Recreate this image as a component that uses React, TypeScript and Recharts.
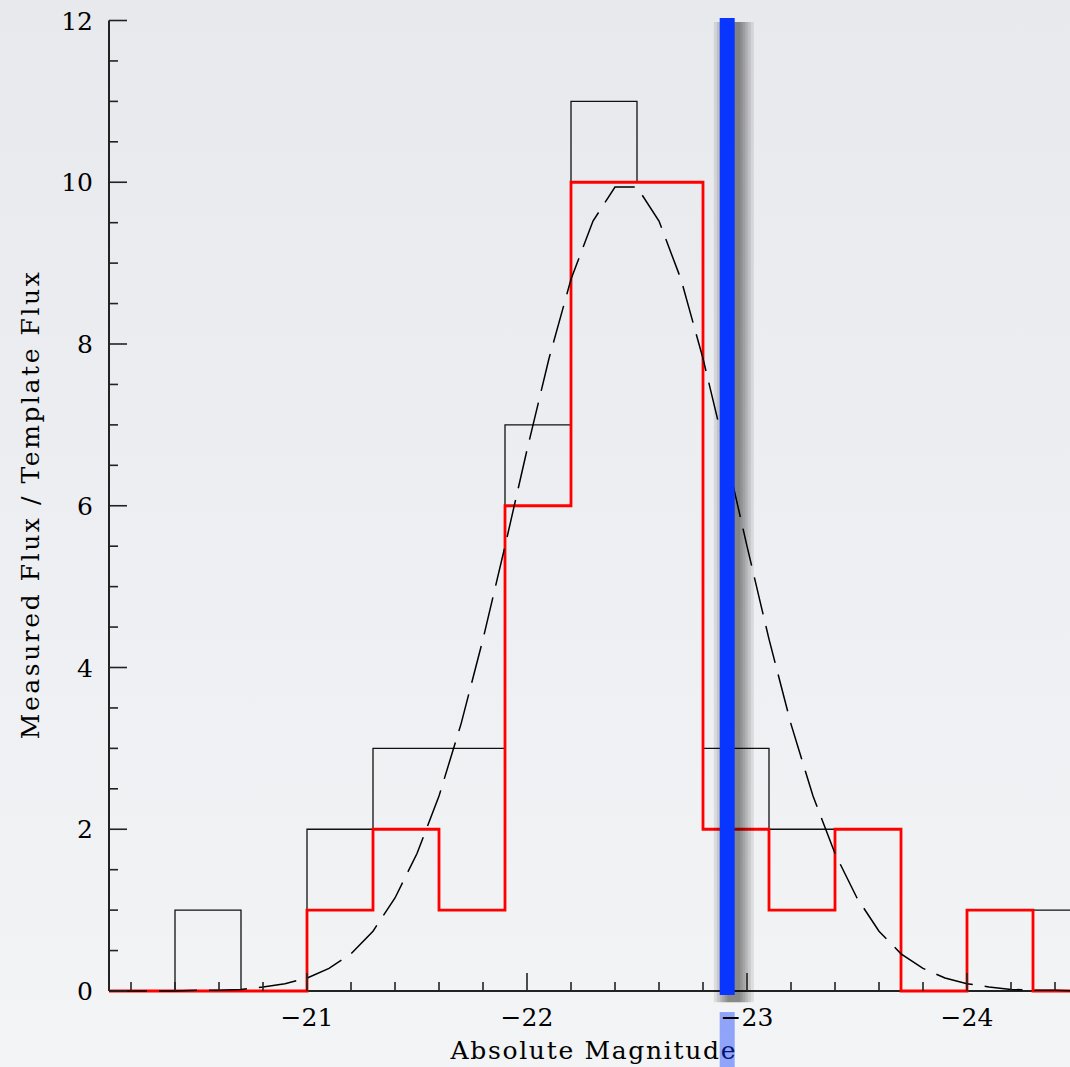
import { ComposedChart, Line, XAxis, YAxis, ReferenceLine, Label } from 'recharts';

// 0.3 mag bins; the last one is cut by the right frame at -24.5
const binEdges = [-20.1, -20.4, -20.7, -21.0, -21.3, -21.6, -21.9, -22.2, -22.5, -22.8, -23.1, -23.4, -23.7, -24.0, -24.3, -24.5];
const allCounts = [0, 1, 0, 2, 3, 3, 7, 11, 10, 3, 2, 2, 0, 1, 1];
const selectedCounts = [0, 0, 0, 1, 2, 1, 6, 10, 10, 2, 1, 2, 0, 1, 0];

// gaussian fit, sampled every 0.1 mag
const fitMags = [
  -20.1, -20.2, -20.3, -20.4, -20.5, -20.6, -20.7, -20.8, -20.9, -21.0,
  -21.1, -21.2, -21.3, -21.4, -21.5, -21.6, -21.7, -21.8, -21.9, -22.0,
  -22.1, -22.2, -22.3, -22.4, -22.5, -22.6, -22.7, -22.8, -22.9, -23.0,
  -23.1, -23.2, -23.3, -23.4, -23.5, -23.6, -23.7, -23.8, -23.9, -24.0,
  -24.1, -24.2, -24.3, -24.4, -24.5,
];
const fitValues = [
  0.0, 0.0, 0.0, 0.0, 0.01, 0.01, 0.02, 0.05, 0.09, 0.16,
  0.28, 0.46, 0.74, 1.15, 1.7, 2.41, 3.3, 4.35, 5.5, 6.69,
  7.82, 8.8, 9.52, 9.94, 9.94, 9.52, 8.8, 7.82, 6.69, 5.5,
  4.35, 3.3, 2.41, 1.7, 1.15, 0.74, 0.46, 0.28, 0.16, 0.09,
  0.05, 0.02, 0.01, 0.01, 0.0,
];

const cutMag = -22.91;
// soft drop shadow behind the cut line: stacked translucent strokes, shifted right
const shadowOffset = -0.03;
const shadowWidths = [40, 34, 28, 23, 18, 13];

const xMajorTicks = [-21, -22, -23, -24];
const yMajorTicks = [0, 2, 4, 6, 8, 10, 12];
const xTicks = Array.from({ length: 22 }, (_, i) => +(-20.2 - 0.2 * i).toFixed(1));
const yTicks = Array.from({ length: 25 }, (_, i) => i * 0.5);

const toSteps = (counts: number[]) =>
  binEdges.map((mag, i) => ({ mag, n: counts[Math.min(i, counts.length - 1)] }));
const allSteps = toSteps(allCounts);
const selectedSteps = toSteps(selectedCounts);
const fitData = fitMags.map((mag, i) => ({ mag, n: fitValues[i] }));

const W = 1090;
const H = 1067;
const FONT = '"DejaVu Serif", serif';
const AXIS = '#222';
const textStyle = { fontFamily: FONT, fontSize: 25, fill: '#000' };

const fmt = (v: number) => (v < 0 ? '\u2212' + Math.abs(v) : String(v));
const isMajorX = (v: number) => xMajorTicks.some((m) => Math.abs(m - v) < 1e-6);
const isMajorY = (v: number) => yMajorTicks.some((m) => Math.abs(m - v) < 1e-6);

const BottomTick = ({ x, y, payload }: any) => {
  const major = isMajorX(payload.value);
  return (
    <g>
      <line x1={x} x2={x} y1={y} y2={y - (major ? 18 : 9)} stroke={AXIS} strokeWidth={1.6} />
      {major && (
        <text x={x} y={y + 35} textAnchor="middle" style={textStyle}>
          {fmt(payload.value)}
        </text>
      )}
    </g>
  );
};

const TopTick = ({ x, y, payload }: any) => {
  const major = isMajorX(payload.value);
  return <line x1={x} x2={x} y1={y} y2={y + (major ? 18 : 9)} stroke={AXIS} strokeWidth={1.6} />;
};

const LeftTick = ({ x, y, payload }: any) => {
  const major = isMajorY(payload.value);
  return (
    <g>
      <line x1={x} x2={x + (major ? 18 : 9)} y1={y} y2={y} stroke={AXIS} strokeWidth={1.6} />
      {major && (
        <text x={x - 16} y={y + 9} textAnchor="end" style={textStyle}>
          {fmt(payload.value)}
        </text>
      )}
    </g>
  );
};

const RightTick = ({ x, y, payload }: any) => {
  const major = isMajorY(payload.value);
  return <line x1={x} x2={x - (major ? 18 : 9)} y1={y} y2={y} stroke={AXIS} strokeWidth={1.6} />;
};

const XTitle = ({ viewBox }: any) => (
  <text
    x={viewBox.x + viewBox.width / 2}
    y={viewBox.y + viewBox.height - 8}
    textAnchor="middle"
    textLength={285}
    lengthAdjust="spacing"
    style={textStyle}
  >
    Absolute Magnitude
  </text>
);

const YTitle = ({ viewBox }: any) => {
  const cx = viewBox.x + 39;
  const cy = viewBox.y + viewBox.height / 2;
  return (
    <text
      x={cx}
      y={cy}
      textAnchor="middle"
      textLength={467}
      lengthAdjust="spacing"
      transform={`rotate(-90, ${cx}, ${cy})`}
      style={textStyle}
    >
      Measured Flux / Template Flux
    </text>
  );
};

export default function App() {
  return (
    <div
      style={{
        position: 'absolute',
        left: 0,
        top: 0,
        width: 1070,
        height: 1067,
        overflow: 'hidden',
        background: 'linear-gradient(#e7e9ed, #f3f4f6)',
      }}
    >
      <ComposedChart width={W} height={H} margin={{ top: 20.5, right: 13, bottom: 0, left: 0 }}>
        <XAxis
          dataKey="mag"
          type="number"
          domain={[-24.5, -20.1]}
          reversed
          ticks={xTicks}
          interval={0}
          height={76}
          tickSize={0}
          tickMargin={0}
          tickLine={false}
          tick={<BottomTick />}
          axisLine={{ stroke: AXIS, strokeWidth: 2 }}
        >
          <Label content={<XTitle />} />
        </XAxis>
        <XAxis
          xAxisId="top"
          orientation="top"
          dataKey="mag"
          type="number"
          domain={[-24.5, -20.1]}
          reversed
          ticks={xTicks}
          interval={0}
          height={0}
          tickSize={0}
          tickMargin={0}
          tickLine={false}
          tick={<TopTick />}
          axisLine={{ stroke: AXIS, strokeWidth: 2 }}
        />
        <YAxis
          type="number"
          domain={[0, 12]}
          ticks={yTicks}
          interval={0}
          width={109}
          tickSize={0}
          tickMargin={0}
          tickLine={false}
          tick={<LeftTick />}
          axisLine={{ stroke: AXIS, strokeWidth: 2 }}
        >
          <Label content={<YTitle />} />
        </YAxis>
        <YAxis
          yAxisId="right"
          orientation="right"
          type="number"
          domain={[0, 12]}
          ticks={yTicks}
          interval={0}
          width={0}
          tickSize={0}
          tickMargin={0}
          tickLine={false}
          tick={<RightTick />}
          axisLine={{ stroke: AXIS, strokeWidth: 2 }}
        />
        <Line
          data={allSteps}
          dataKey="n"
          type="stepAfter"
          stroke="#111"
          strokeWidth={1.3}
          dot={false}
          activeDot={false}
          isAnimationActive={false}
          zIndex={600}
        />
        <Line
          data={selectedSteps}
          dataKey="n"
          type="stepAfter"
          stroke="#ff0000"
          strokeWidth={2.8}
          dot={false}
          activeDot={false}
          isAnimationActive={false}
          zIndex={610}
        />
        <Line
          data={fitData}
          dataKey="n"
          type="linear"
          stroke="#000"
          strokeWidth={1.5}
          strokeDasharray="38 12"
          dot={false}
          activeDot={false}
          isAnimationActive={false}
          zIndex={620}
        />
        {shadowWidths.map((w) => (
          <ReferenceLine
            key={w}
            segment={[
              { x: cutMag + shadowOffset, y: 11.98 },
              { x: cutMag + shadowOffset, y: -0.14 },
            ]}
            ifOverflow="visible"
            stroke="#000"
            strokeOpacity={0.09}
            strokeWidth={w}
            zIndex={690}
          />
        ))}
        <ReferenceLine
          segment={[{ x: cutMag, y: 12.03 }, { x: cutMag, y: -0.05 }]}
          ifOverflow="visible"
          stroke="#0836ff"
          strokeWidth={15}
          zIndex={700}
        />
        <ReferenceLine
          segment={[{ x: cutMag, y: -0.26 }, { x: cutMag, y: -0.96 }]}
          ifOverflow="visible"
          stroke="#0836ff"
          strokeOpacity={0.42}
          strokeWidth={15}
          zIndex={710}
        />
      </ComposedChart>
    </div>
  );
}
